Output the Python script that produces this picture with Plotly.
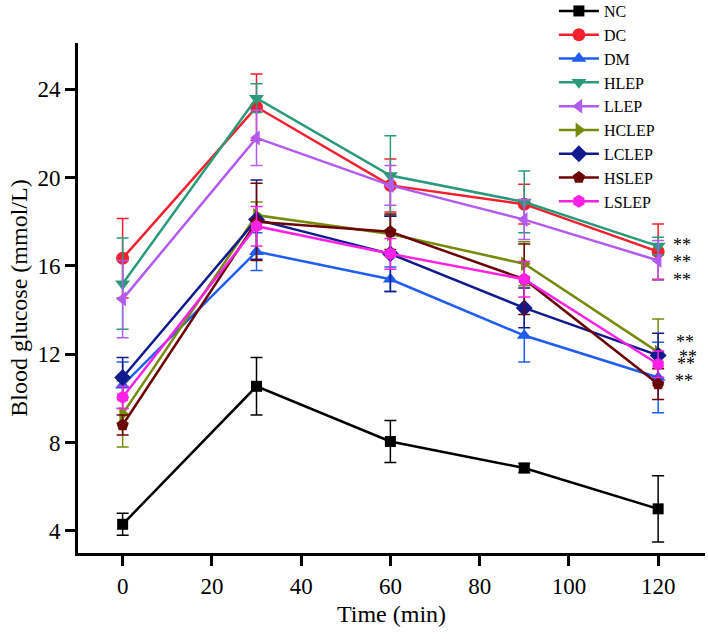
import plotly.graph_objects as go

time_min = [0, 30, 60, 90, 120]

groups = ["NC", "DC", "DM", "HLEP", "LLEP", "HCLEP", "LCLEP", "HSLEP", "LSLEP"]

NC = [4.3, 10.55, 8.05, 6.85, 5.0]
NC_err = [0.5, 1.3, 0.95, 0.2, 1.5]
DC = [16.35, 23.2, 19.65, 18.8, 16.65]
DC_err = [1.8, 1.5, 1.2, 0.9, 1.25]
DM = [10.6, 16.65, 15.4, 12.85, 10.95]
DM_err = [1.05, 0.85, 0.55, 1.2, 1.6]
HLEP = [15.2, 23.6, 20.1, 18.9, 16.9]
HLEP_err = [2.07, 0.65, 1.8, 1.4, 0.4]
LLEP = [14.5, 21.8, 19.65, 18.1, 16.25]
LLEP_err = [1.75, 1.25, 0.9, 0.9, 0.9]
HCLEP = [9.3, 18.3, 17.45, 16.1, 12.1]
HCLEP_err = [1.5, 0.6, 0.8, 1.0, 1.5]
LCLEP = [10.95, 18.1, 16.55, 14.1, 11.95]
LCLEP_err = [0.9, 1.8, 1.7, 0.9, 1.0]
HSLEP = [8.8, 18.0, 17.55, 15.4, 10.65]
HSLEP_err = [0.45, 1.75, 0.8, 1.6, 0.7]
LSLEP = [10.05, 17.8, 16.55, 15.4, 11.55]
LSLEP_err = [0.5, 0.9, 0.7, 0.8, 0.6]

sig_x = [125.4, 125.4, 125.4, 126.0, 126.6, 126.2, 125.7]
sig_y = [17.17, 16.4, 15.57, 12.76, 12.1, 11.76, 10.97]

values = [NC, DC, DM, HLEP, LLEP, HCLEP, LCLEP, HSLEP, LSLEP]
errors = [NC_err, DC_err, DM_err, HLEP_err, LLEP_err, HCLEP_err, LCLEP_err, HSLEP_err, LSLEP_err]
colors = ["#000000", "#F2202E", "#1F5EF0", "#2A9B7A", "#B25BF0", "#758B0C", "#111A8C", "#6B0505", "#FF22E6"]
symbols = ["square", "circle", "triangle-up", "triangle-down", "triangle-left",
           "triangle-right", "diamond", "pentagon", "hexagon"]
sizes = [11, 13, 13, 13, 13, 13, 13, 13, 13]

FONT = "Liberation Serif, Times New Roman, serif"

fig = go.Figure()
for name, v, e, c, s, sz in zip(groups, values, errors, colors, symbols, sizes):
    fig.add_trace(go.Scatter(
        x=time_min, y=v, name=name, mode="lines+markers",
        line=dict(color=c, width=2.5),
        marker=dict(symbol=s, size=sz, color=c),
        error_y=dict(type="data", array=e, visible=True, color=c, thickness=1.5, width=6),
    ))

for sx, sy in zip(sig_x, sig_y):
    fig.add_annotation(x=sx, y=sy - 0.2, text="**", showarrow=False,
                       font=dict(family=FONT, size=18, color="black"),
                       xanchor="center", yanchor="middle")

axis_common = dict(showline=True, linecolor="black", linewidth=3, ticks="outside",
                   ticklen=10, tickwidth=3, tickcolor="black", showgrid=False,
                   zeroline=False, tickfont=dict(family=FONT, size=23, color="black"),
                   mirror=False, automargin=False)

fig.update_layout(
    width=708, height=639,
    margin=dict(l=78, r=3, t=43, b=86, autoexpand=False),
    paper_bgcolor="white", plot_bgcolor="white",
    font=dict(family=FONT, color="black"),
    xaxis=dict(range=[-10, 130.5], tickvals=[0, 20, 40, 60, 80, 100, 120],
               title=dict(text="Time (min)", font=dict(family=FONT, size=24), standoff=8),
               **axis_common),
    yaxis=dict(range=[3.0, 26.1], tickvals=[4, 8, 12, 16, 20, 24],
               title=dict(text="Blood glucose (mmol/L)", font=dict(family=FONT, size=24), standoff=4),
               **axis_common),
    legend=dict(x=0.759, y=1.096, xanchor="left", yanchor="top",
                bgcolor="rgba(0,0,0,0)", font=dict(family=FONT, size=16, color="black"),
                tracegroupgap=0, itemwidth=40),
    showlegend=True,
)

fig.write_html("out.html", config={"displayModeBar": False},
               post_script="document.body.style.margin='0';")
